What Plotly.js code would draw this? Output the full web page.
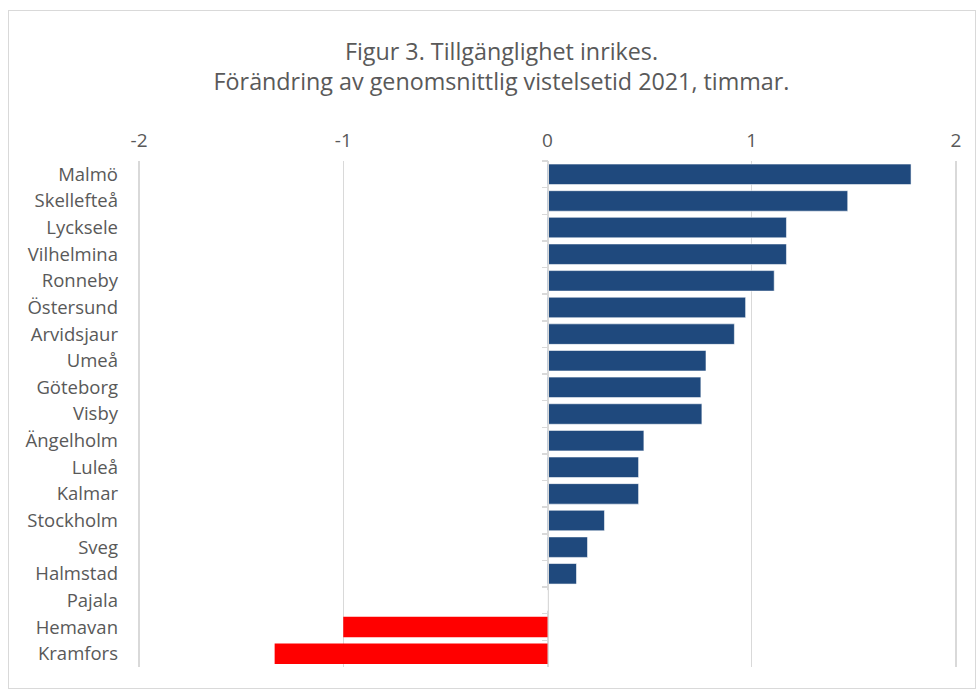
<!DOCTYPE html>
<html>
<head>
<meta charset="utf-8">
<script src="https://cdn.plot.ly/plotly-3.0.1.min.js"></script>
<style>
  html, body { margin: 0; padding: 0; background: #ffffff; }
  #wrap { position: relative; width: 978px; height: 690px; }
  #chart { width: 978px; height: 690px; }
  #frame { position: absolute; left: 8px; top: 10px; width: 966px; height: 677px;
           border: 1px solid #d9d9d9; pointer-events: none; }
</style>
</head>
<body>
<div id="wrap">
  <div id="chart"></div>
  <div id="frame"></div>
</div>
<script>
const airports = ["Malmö","Skellefteå","Lycksele","Vilhelmina","Ronneby","Östersund","Arvidsjaur","Umeå","Göteborg","Visby","Ängelholm","Luleå","Kalmar","Stockholm","Sveg","Halmstad","Pajala","Hemavan","Kramfors"];
const changeHours = [1.78,1.47,1.17,1.17,1.11,0.97,0.915,0.776,0.751,0.756,0.472,0.446,0.446,0.279,0.196,0.142,0,-1.0,-1.336];
const xTicks = [-2,-1,0,1,2];

const barColors = changeHours.map(v => v < 0 ? "#ff0000" : "#1f497d");
const lineColors = changeHours.map(v => v < 0 ? "rgba(255,0,0,0)" : "rgba(255,255,255,0.7)");

const fontFam = "'Open Sans', Lato, sans-serif";
const grey = "#595959";

const traces = [
  {
    type: "bar",
    orientation: "h",
    x: changeHours,
    y: airports,
    yaxis: "y2",
    marker: { color: barColors, line: { color: lineColors, width: 0.8 } },
    hoverinfo: "x+y"
  },
  {
    type: "bar",
    orientation: "h",
    x: airports.map(() => null),
    y: airports,
    yaxis: "y",
    showlegend: false,
    hoverinfo: "skip"
  }
];

const layout = {
  width: 978,
  height: 690,
  margin: { l: 138, r: 21, t: 161, b: 23 },
  paper_bgcolor: "#ffffff",
  plot_bgcolor: "#ffffff",
  showlegend: false,
  bargap: 0.23,
  font: { family: fontFam, color: grey },
  title: {
    text: "Figur 3. Tillgänglighet inrikes.<br>Förändring av genomsnittlig vistelsetid 2021, timmar.",
    font: { family: fontFam, size: 23.3, color: grey },
    x: 0.5128,
    xanchor: "center",
    yref: "container",
    y: 1 - 60 / 690,
    yanchor: "middle"
  },
  xaxis: {
    side: "top",
    range: [-2.005, 2.005],
    tickvals: xTicks,
    ticktext: xTicks.map(String),
    tickfont: { family: fontFam, size: 19, color: grey },
    showgrid: true,
    gridcolor: "#d9d9d9",
    gridwidth: 1.5,
    zeroline: false,
    showline: false,
    ticks: "",
    ticklabelstandoff: 9,
    fixedrange: true
  },
  yaxis: {
    type: "category",
    categoryorder: "array",
    categoryarray: airports,
    autorange: "reversed",
    tickfont: { family: fontFam, size: 18.5, color: grey },
    showgrid: false,
    zeroline: false,
    showline: false,
    ticks: "",
    ticklabelstandoff: 19,
    fixedrange: true
  },
  yaxis2: {
    type: "category",
    categoryorder: "array",
    categoryarray: airports,
    autorange: "reversed",
    overlaying: "y",
    anchor: "free",
    side: "left",
    position: 0.5,
    showticklabels: false,
    showgrid: false,
    zeroline: false,
    showline: true,
    linecolor: "#d9d9d9",
    linewidth: 1.5,
    ticks: "outside",
    tickson: "boundaries",
    ticklen: 6,
    tickwidth: 1.5,
    tickcolor: "#d9d9d9",
    fixedrange: true
  }
};

Plotly.newPlot("chart", traces, layout, { displayModeBar: false, staticPlot: true });
</script>
</body>
</html>
